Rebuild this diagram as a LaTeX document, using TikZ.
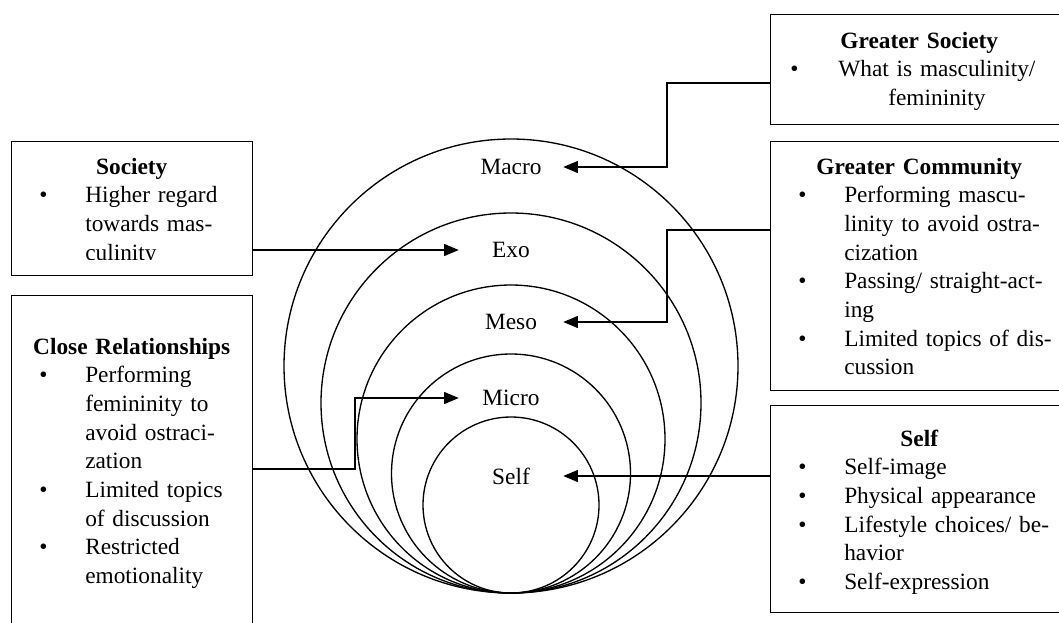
\documentclass[tikz,border=0pt]{standalone}
\usepackage{fontspec}
\setmainfont{Liberation Serif}
\usetikzlibrary{arrows.meta}

\newcommand\bul{\par\noindent\hangindent=55.5pt\hangafter=1%
  \makebox[55.5pt][l]{\hspace{21pt}\textbullet}}
\protected\def\boxfont{\fontsize{17.5}{21.5}\selectfont
  \spaceskip=0.17em plus 0.05em\relax}

\begin{document}
\begin{tikzpicture}[x=0.75pt, y=-0.75pt,
                    frame/.style={draw, line width=1.1pt, inner sep=0pt, anchor=north west},
                    txt/.style={inner sep=0pt, anchor=base west, align=left, text width=#1,
                                font=\boxfont},
                    lvl/.style={inner sep=0pt, minimum width=78pt,
                                font=\fontsize{17.5}{21.5}\selectfont},
                    ring/.style={line width=1pt},
                    arr/.style={line width=0.9pt, -{Triangle[length=11pt,width=9pt]}}
                    ]
    \useasboundingbox (0,0) rectangle (1059,622);
    \clip (0,0) rectangle (1059,622);

    \def\Rx{667}   \def\Lx{355}

    \draw[ring] (511,366)   circle[radius=227];
    \draw[ring] (511,403)   circle[radius=190];
    \draw[ring] (511,439)   circle[radius=154];
    \draw[ring] (511,473.5) circle[radius=119.5];
    \draw[ring] (511,505)   circle[radius=88];

    \node[lvl] (macro) at (511,167) {Macro};
    \node[lvl] (exo)   at (511,250) {Exo};
    \node[lvl] (meso)  at (511,322) {Meso};
    \node[lvl] (micro) at (511,398) {Micro};
    \node[lvl] (self)  at (511,476) {Self};

    \node[frame, minimum width=180.75pt, minimum height=100.5pt]  (society) at (11,141)  {};
    \node[frame, minimum width=180.75pt, minimum height=258.75pt] (close)   at (11,295)  {};
    \node[frame, minimum width=223.5pt,  minimum height=82.5pt]   (gsoc)    at (770,14)  {};
    \node[frame, minimum width=223.5pt,  minimum height=186.75pt] (gcom)    at (770,141) {};
    \node[frame, minimum width=223.5pt,  minimum height=155.25pt] (selfbox) at (770,405) {};

    \begin{scope}
        \clip (11,141) rectangle (252,259);
        \node[txt=180.75pt] (societyT) at (11,174) {{\centering\bfseries Society\par}
            \bul Higher regard\newline towards mas-\newline culinity\par};
    \end{scope}
    \node[txt=180.75pt] (closeT) at (11,354) {{\centering\bfseries Close Relationships\par}
        \bul Performing\newline femininity to\newline avoid ostraci-\newline zation
        \bul Limited topics\newline of discussion
        \bul Restricted\newline emotionality\par};
    \node[txt=223.5pt] (gsocT) at (770,48) {{\centering\bfseries Greater Society\par}
        \noindent\makebox[45pt][l]{\hspace{15pt}\textbullet}%
        \parbox[t]{160pt}{\centering What is masculinity/\\femininity}\par};
    \node[txt=223.5pt] (gcomT) at (770,174) {{\centering\bfseries Greater Community\par}
        \bul Performing mascu-\newline linity to avoid ostra-\newline cization
        \bul Passing/ straight-act-\newline ing
        \bul Limited topics of dis-\newline cussion\par};
    \node[txt=223.5pt] (selfT) at (770,446) {{\centering\bfseries Self\par}
        \bul Self-image
        \bul Physical appearance
        \bul Lifestyle choices/ be-\newline havior
        \bul Self-expression\par};

    \draw[arr] (gsoc.west |- 0,83) -| (\Rx,0 |- macro.east) -- (macro.east);
    \draw[arr] (society.east |- exo.west) -- (exo.west);
    \draw[arr] (gcom.west |- 0,230) -| (\Rx,0 |- meso.east) -- (meso.east);
    \draw[arr] (close.east |- 0,469) -| (\Lx,0 |- micro.west) -- (micro.west);
    \draw[arr] (selfbox.west |- self.east) -- (self.east);
\end{tikzpicture}
\end{document}
